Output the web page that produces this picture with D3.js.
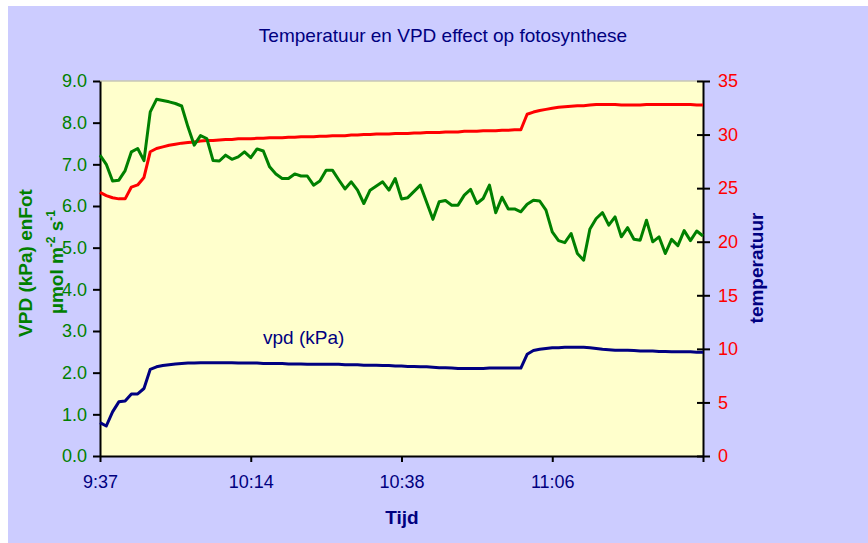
<!DOCTYPE html>
<html>
<head>
<meta charset="utf-8">
<script src="https://cdn.jsdelivr.net/npm/d3@7"></script>
<style>
  body { margin: 0; background: #fff; }
  text { font-family: "Liberation Sans", Arial, sans-serif; }
</style>
</head>
<body>
<script>
// fotosynthese (µmol m-2 s-1), left axis
var photo = [7.22, 7.0, 6.6, 6.62, 6.85, 7.3, 7.38, 7.09, 8.26, 8.56,
  8.53, 8.5, 8.46, 8.4, 7.9, 7.46, 7.69, 7.62, 7.09, 7.08,
  7.22, 7.12, 7.18, 7.3, 7.16, 7.37, 7.32, 6.94, 6.77, 6.66,
  6.66, 6.77, 6.72, 6.72, 6.5, 6.6, 6.86, 6.86, 6.63, 6.41,
  6.58, 6.38, 6.06, 6.38, 6.48, 6.58, 6.38, 6.66, 6.17, 6.2,
  6.35, 6.5, 6.09, 5.68, 6.1, 6.13, 6.02, 6.02, 6.26, 6.4,
  6.06, 6.18, 6.5, 5.84, 6.21, 5.93, 5.93, 5.86, 6.04, 6.14,
  6.12, 5.9, 5.38, 5.17, 5.12, 5.34, 4.86, 4.7, 5.45, 5.7,
  5.84, 5.54, 5.74, 5.26, 5.48, 5.2, 5.18, 5.66, 5.14, 5.26,
  4.86, 5.2, 5.05, 5.41, 5.17, 5.4, 5.28];

// temperatuur, right axis
var temp = [24.6, 24.3, 24.1, 24.0, 24.0, 25.1, 25.3, 26.0, 28.4, 28.7,
  28.85, 29.0, 29.1, 29.2, 29.25, 29.3, 29.4, 29.45, 29.45, 29.5,
  29.55, 29.55, 29.6, 29.6, 29.6, 29.65, 29.65, 29.7, 29.7, 29.7,
  29.75, 29.75, 29.8, 29.8, 29.8, 29.85, 29.85, 29.9, 29.9, 29.9,
  29.95, 29.95, 30.0, 30.0, 30.05, 30.05, 30.05, 30.1, 30.1, 30.1,
  30.15, 30.15, 30.2, 30.2, 30.2, 30.25, 30.25, 30.25, 30.3, 30.3,
  30.3, 30.35, 30.35, 30.35, 30.4, 30.4, 30.45, 30.45, 31.9, 32.1,
  32.25, 32.35, 32.45, 32.55, 32.6, 32.65, 32.7, 32.7, 32.75, 32.8,
  32.8, 32.8, 32.8, 32.75, 32.75, 32.75, 32.75, 32.8, 32.8, 32.8,
  32.8, 32.8, 32.8, 32.8, 32.8, 32.75, 32.75];

// vpd (kPa), left axis
var vpd = [0.8, 0.72, 1.06, 1.3, 1.32, 1.49, 1.49, 1.62, 2.08, 2.14,
  2.17, 2.19, 2.21, 2.22, 2.23, 2.23, 2.24, 2.24, 2.24, 2.24,
  2.24, 2.24, 2.23, 2.23, 2.23, 2.23, 2.22, 2.22, 2.22, 2.22,
  2.21, 2.21, 2.21, 2.2, 2.2, 2.2, 2.2, 2.2, 2.2, 2.19,
  2.19, 2.19, 2.18, 2.18, 2.18, 2.17, 2.17, 2.16, 2.16, 2.15,
  2.15, 2.14, 2.14, 2.13, 2.12, 2.12, 2.11, 2.1, 2.1, 2.1,
  2.1, 2.1, 2.11, 2.11, 2.11, 2.11, 2.11, 2.11, 2.44, 2.53,
  2.56, 2.58, 2.6, 2.6, 2.61, 2.61, 2.61, 2.61, 2.6, 2.58,
  2.56, 2.55, 2.54, 2.54, 2.54, 2.53, 2.52, 2.52, 2.52, 2.51,
  2.51, 2.5, 2.5, 2.5, 2.5, 2.49, 2.49];

var xTickIdx = [0, 24, 48, 72, 96];
var xTickLabels = ["9:37", "10:14", "10:38", "11:06", ""];
var leftTicks = [0, 1, 2, 3, 4, 5, 6, 7, 8, 9];
var rightTicks = [0, 5, 10, 15, 20, 25, 30, 35];

var green = "#008000", red = "#ff0000", navy = "#000080";

var svg = d3.select("body").append("svg")
    .attr("width", 868)
    .attr("height", 543);

svg.append("rect")
    .attr("x", 8).attr("y", 6)
    .attr("width", 860).attr("height", 537)
    .attr("fill", "#ccccff");

var x = d3.scaleLinear().domain([0, photo.length - 1]).range([100, 703]);
var yL = d3.scaleLinear().domain([0, 9]).range([456, 81]);
var yR = d3.scaleLinear().domain([0, 35]).range([456, 81]);

svg.append("rect")
    .attr("x", 100).attr("y", 81)
    .attr("width", 603).attr("height", 375)
    .attr("fill", "#ffffcc");
svg.append("line")
    .attr("x1", 100).attr("x2", 703)
    .attr("y1", 81).attr("y2", 81)
    .attr("stroke", "#c8c8b4").attr("stroke-width", 1.5);

// axes
var gl = svg.append("g")
    .attr("transform", "translate(100,0)")
    .call(d3.axisLeft(yL).tickValues(leftTicks).tickSize(7).tickSizeOuter(0)
      .tickPadding(6).tickFormat(d3.format(".1f")));
gl.selectAll("text").attr("fill", green).style("font-size", "18px");

var gr = svg.append("g")
    .attr("transform", "translate(703,0)")
    .call(d3.axisRight(yR).tickValues(rightTicks).tickSize(7).tickSizeOuter(0)
      .tickPadding(8));
gr.selectAll(".tick line").attr("x1", -6);
gr.selectAll("text").attr("fill", red).style("font-size", "18px");

var gb = svg.append("g")
    .attr("transform", "translate(0,456)")
    .call(d3.axisBottom(x).tickValues(xTickIdx).tickSize(6).tickSizeOuter(0)
      .tickPadding(13).tickFormat(function(d, i) { return xTickLabels[i]; }));
gb.selectAll("text").attr("fill", navy).style("font-size", "18px");

svg.selectAll(".domain, .tick line").attr("stroke", "#000").attr("stroke-width", 2);

// lines
var lineL = function(arr) {
  return d3.line().x(function(d, i) { return x(i); }).y(function(d) { return yL(d); })(arr);
};
var lineR = d3.line().x(function(d, i) { return x(i); }).y(function(d) { return yR(d); });

svg.append("path").attr("d", lineL(vpd))
    .attr("fill", "none").attr("stroke", navy).attr("stroke-width", 3)
    .attr("stroke-linejoin", "round");
svg.append("path").attr("d", lineR(temp))
    .attr("fill", "none").attr("stroke", red).attr("stroke-width", 3)
    .attr("stroke-linejoin", "round");
svg.append("path").attr("d", lineL(photo))
    .attr("fill", "none").attr("stroke", green).attr("stroke-width", 3)
    .attr("stroke-linejoin", "round");

// texts
svg.append("text")
    .attr("x", 443).attr("y", 42)
    .attr("text-anchor", "middle")
    .attr("fill", navy).style("font-size", "19px")
    .text("Temperatuur en VPD effect op fotosynthese");

svg.append("text")
    .attr("x", 263).attr("y", 344)
    .attr("fill", navy).style("font-size", "19px")
    .text("vpd (kPa)");

svg.append("text")
    .attr("x", 402).attr("y", 524)
    .attr("text-anchor", "middle")
    .attr("fill", navy).style("font-size", "19px").style("font-weight", "bold")
    .text("Tijd");

svg.append("text")
    .attr("transform", "translate(763,268) rotate(-90)")
    .attr("text-anchor", "middle")
    .attr("fill", navy).style("font-size", "19px").style("font-weight", "bold")
    .text("temperatuur");

svg.append("text")
    .attr("transform", "translate(32,263) rotate(-90)")
    .attr("text-anchor", "middle")
    .attr("fill", green).style("font-size", "19px").style("font-weight", "bold")
    .text("VPD (kPa) enFot");

var t2 = svg.append("text")
    .attr("transform", "translate(63,262) rotate(-90)")
    .attr("text-anchor", "middle")
    .attr("fill", green).style("font-size", "19px").style("font-weight", "bold");
t2.append("tspan").text("µmol m");
t2.append("tspan").attr("dy", -8).style("font-size", "12px").text("-2");
t2.append("tspan").attr("dy", 8).text(" s");
t2.append("tspan").attr("dy", -8).style("font-size", "12px").text("-1");
</script>
</body>
</html>
